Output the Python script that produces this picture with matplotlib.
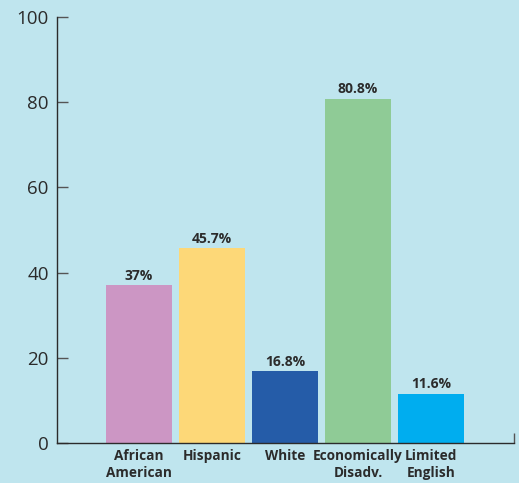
import matplotlib.pyplot as plt
from matplotlib.ticker import FixedLocator

# -------------------------
# DATA
# -------------------------

categories = ["African\nAmerican", "Hispanic", "White", "Economically\nDisadv.", "Limited\nEnglish"]
values = [37, 45.7, 16.8, 80.8, 11.6]
value_labels = ["37%", "45.7%", "16.8%", "80.8%", "11.6%"]
colors = ["#cc96c4", "#fdd878", "#255ca8", "#8fcb96", "#00adef"]
y_ticks = [0, 20, 40, 60, 80, 100]

BG = "#bfe5ee"
INK = "#2b2b2b"

plt.rcParams["font.family"] = ["Open Sans", "DejaVu Sans"]

fig = plt.figure(figsize=(5.19, 4.83), dpi=100, facecolor=BG)
ax = fig.add_axes([57 / 519, 40 / 483, 457 / 519, 426 / 483])
ax.set_facecolor(BG)

x = list(range(len(categories)))
ax.bar(x, values, width=0.904, color=colors, zorder=2)

for xi, v, lab in zip(x, values, value_labels):
    ax.annotate(lab, (xi, v), xytext=(0, 2), textcoords="offset points",
                ha="center", va="bottom", fontsize=10, fontweight="bold", color=INK)

ax.set_xlim(-1.123, 5.137)
ax.set_ylim(0, 100)

ax.set_yticks(y_ticks)
ax.tick_params(axis="y", direction="in", length=8, width=1, colors=INK,
               labelsize=13.5, pad=6)
ax.tick_params(axis="y", color="#555555")
ax.set_xticks(x)
ax.set_xticklabels(categories, fontsize=9.8, fontweight="bold", color=INK,
                   linespacing=1.3)
ax.tick_params(axis="x", length=0, pad=4)
ax.xaxis.set_minor_locator(FixedLocator([5.137]))
ax.tick_params(axis="x", which="minor", direction="in", length=7, width=1, color="#555555")

for side in ["top", "right"]:
    ax.spines[side].set_visible(False)
for side in ["left", "bottom"]:
    ax.spines[side].set_color(INK)
    ax.spines[side].set_linewidth(1)

fig.savefig("out.png", dpi=100, facecolor=BG)
